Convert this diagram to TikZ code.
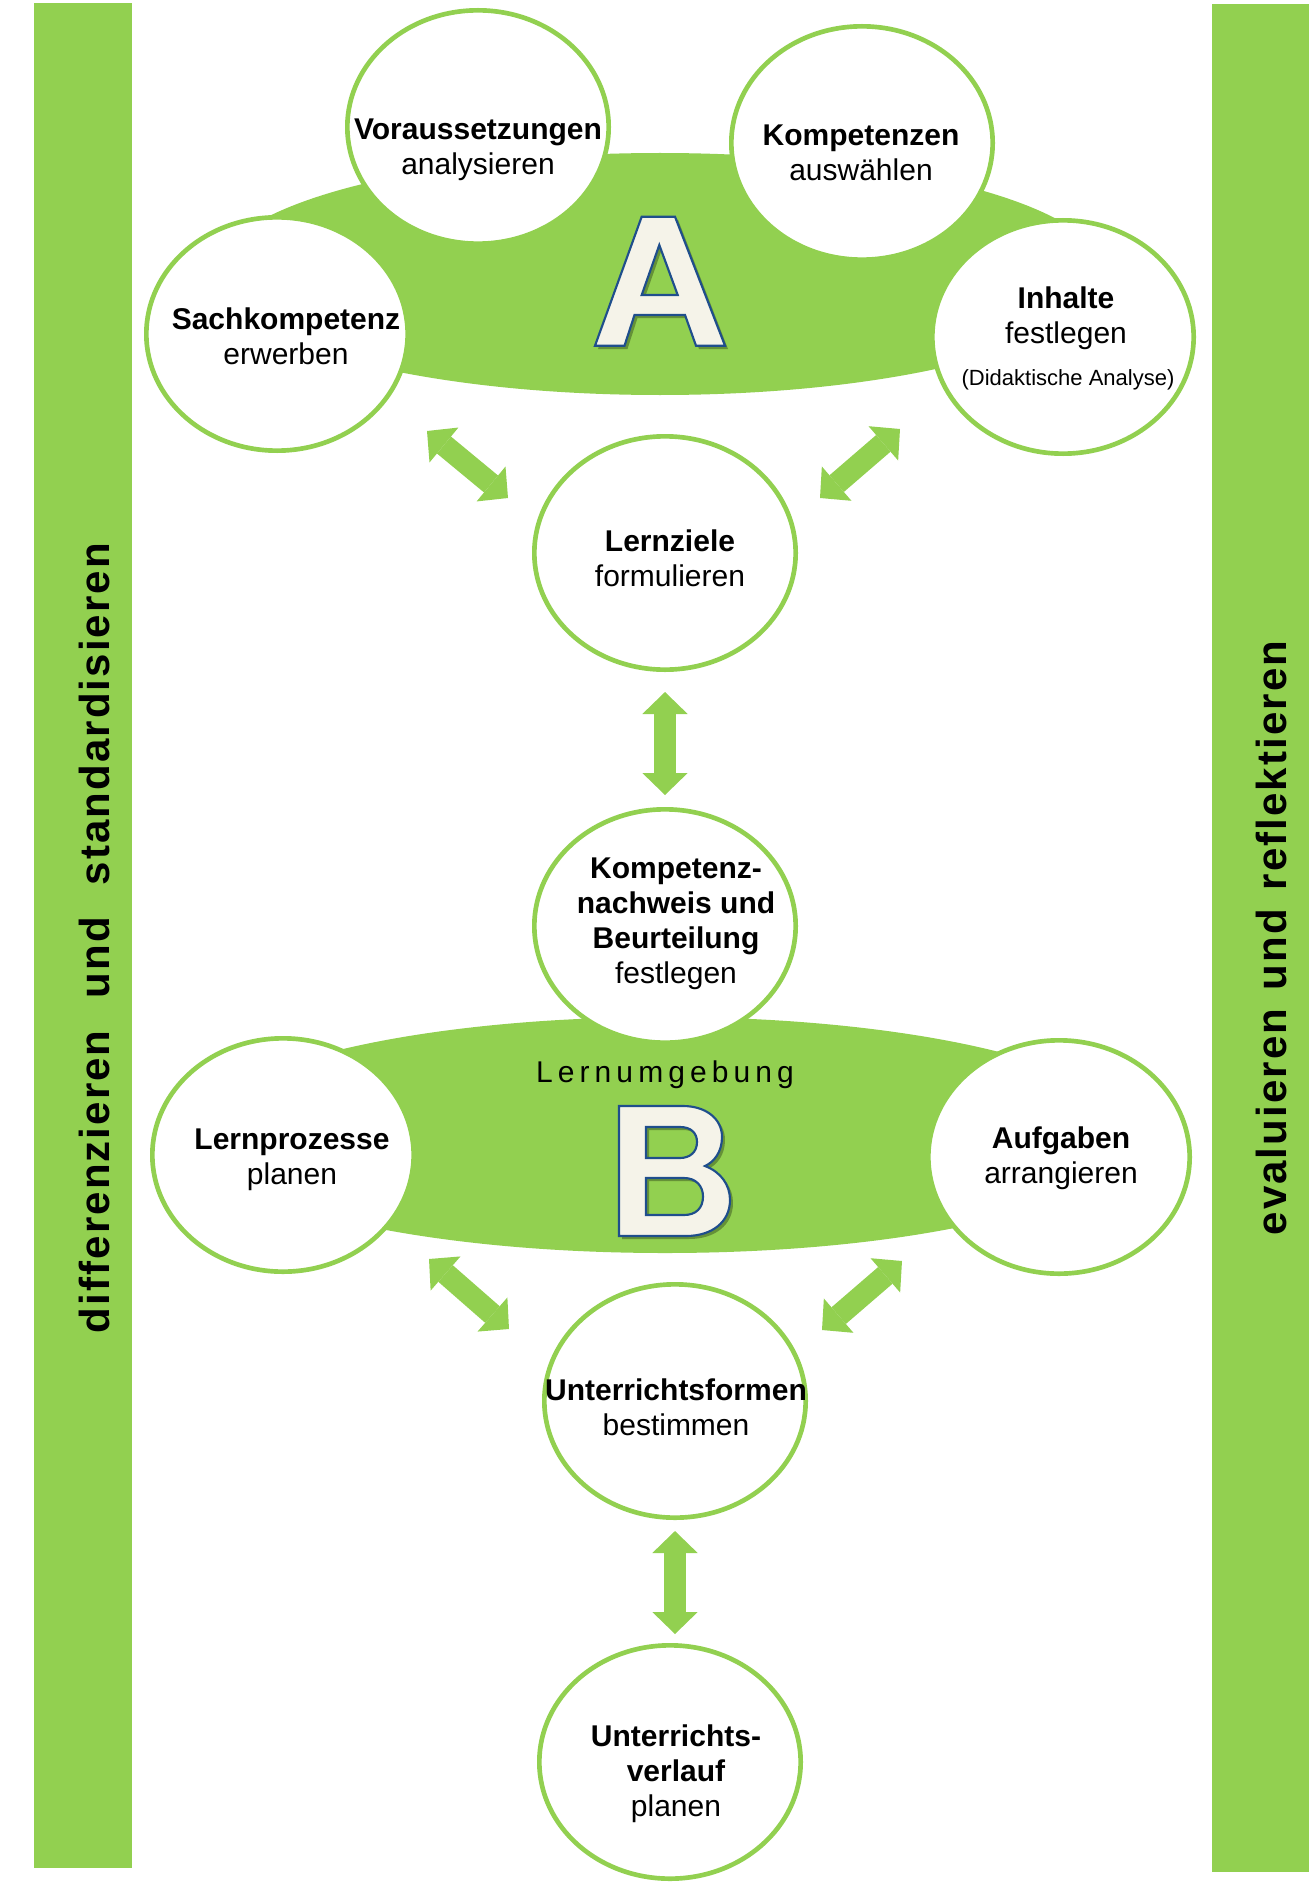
\documentclass[tikz,border=0pt]{standalone}
\usepackage{fontspec}
\setmainfont{Liberation Sans}
\newfontfamily\sidefont{Liberation Sans}[LetterSpace=5]
\newfontfamily\lufont{Liberation Sans}[LetterSpace=17]
\usetikzlibrary{shapes.geometric,arrows.meta}
\definecolor{lgreen}{HTML}{92D050}
\definecolor{navy}{HTML}{1F4E8C}
\definecolor{cream}{HTML}{F5F3E9}
\begin{document}
\begin{tikzpicture}[x=0.75pt,y=-0.75pt,
  bar/.style={fill=lgreen, draw=none},
  blob/.style={ellipse, fill=lgreen, draw=none, inner sep=0pt},
  bubble/.style={ellipse, draw=lgreen, line width=3.5pt, fill=white, inner sep=0pt, minimum width=196pt, minimum height=175pt},
  ttl/.style={font=\fontsize{22.5}{26.25}\selectfont, align=center, inner sep=0pt},
  smalltxt/.style={font=\fontsize{16.5}{19}\selectfont, inner sep=0pt},
  dbl/.style={draw=lgreen, line width=16.5pt, {Triangle[length=16.5pt,width=34pt,line width=0pt]}-{Triangle[length=16.5pt,width=34pt,line width=0pt]}},
  side/.style={font=\sidefont\bfseries\fontsize{31.5}{36}\selectfont, rotate=90, anchor=base, inner sep=0pt},
  letterfill/.style={fill=cream, draw=navy, line width=1.6pt, even odd rule, line join=miter},
  lettershadow/.style={fill=black, opacity=0.3, even odd rule}
]
\useasboundingbox (0,0) rectangle (1316,1887);
\fill[white] (0,0) rectangle (1316,1887);

% side bars
\path[bar] (34,3) rectangle (132,1868);
\path[bar] (1212,4) rectangle (1309,1872);
\node[side] (lefttxt) at (109,938) {differenzieren\hspace{24pt}und\hspace{24pt}standardisieren};
\node[side] (righttxt) at (1286,938) {evaluieren\hspace{14pt}und\hspace{14pt}reflektieren};

% green blobs
\node[blob, minimum width=667.5pt, minimum height=181.5pt] (blobA) at (660,274) {};
\node[blob, minimum width=705pt, minimum height=177pt] (blobB) at (665,1135) {};

% bubbles
\node[bubble] (vor) at (478,127) {};
\node[bubble] (kom) at (862,143) {};
\node[bubble] (sach) at (277,334) {};
\node[bubble] (inh) at (1063,337) {};
\node[bubble] (lz) at (665,553) {};
\node[bubble] (kn) at (665,926) {};
\node[bubble] (lp) at (283,1155) {};
\node[bubble] (auf) at (1059,1157) {};
\node[bubble] (uf) at (675,1401) {};
\node[bubble] (uv) at (670,1762) {};

% letter A
\path[lettershadow] (598,349) -- (644.7,219.7) -- (678,219.7) -- (728,349) -- (699,349) -- (688,318) -- (637.5,318) -- (627.5,349) -- cycle
  (662.3,248) -- (680.7,298) -- (644.7,298) -- cycle;
\path[letterfill] (595,345.7) -- (641.7,216.7) -- (675,216.7) -- (725,345.7) -- (696,345.7) -- (685,315) -- (634.5,315) -- (624.5,345.7) -- cycle
  (659.3,245) -- (677.7,295) -- (641.7,295) -- cycle;

% letter B
\path[lettershadow] (622,1109) -- (686,1109) .. controls (708,1109) and (725,1121) .. (725,1140) .. controls (725,1155) and (717,1165) .. (708,1169) .. controls (724,1175) and (733,1188) .. (733,1203) .. controls (733,1225) and (715,1239) .. (689,1239) -- (622,1239) -- cycle
  (649,1130) -- (683,1130) .. controls (694,1130) and (700,1136) .. (700,1145) .. controls (700,1155) and (693,1161) .. (683,1161) -- (649,1161) -- cycle
  (649,1181) -- (687,1181) .. controls (699,1181) and (706,1189) .. (706,1199.5) .. controls (706,1211) and (699,1218) .. (687,1218) -- (649,1218) -- cycle;
\path[letterfill] (619,1106) -- (683,1106) .. controls (705,1106) and (722,1118) .. (722,1137) .. controls (722,1152) and (714,1162) .. (705,1166) .. controls (721,1172) and (730,1185) .. (730,1200) .. controls (730,1222) and (712,1236) .. (686,1236) -- (619,1236) -- cycle
  (646,1127) -- (680,1127) .. controls (691,1127) and (697,1133) .. (697,1142) .. controls (697,1152) and (690,1158) .. (680,1158) -- (646,1158) -- cycle
  (646,1178) -- (684,1178) .. controls (696,1178) and (703,1186) .. (703,1196.5) .. controls (703,1208) and (696,1215) .. (684,1215) -- (646,1215) -- cycle;

\node[font=\lufont\fontsize{22.5}{26}\selectfont, anchor=base, inner sep=0pt] (lu) at (665,1082) {Lernumgebung};

% texts
\node[ttl] (tvor) at (478,150) {\textbf{Voraussetzungen}\\analysieren};
\node[ttl] (tkom) at (861,153) {\textbf{Kompetenzen}\\auswählen};
\node[ttl] (tsach) at (286,336) {\textbf{Sachkompetenz}\\erwerben};
\node[ttl] (tinh) at (1066,318) {\textbf{Inhalte}\\festlegen};
\node[smalltxt] (tdid) at (1068,380) {(Didaktische Analyse)};
\node[ttl] (tlz) at (670,558) {\textbf{Lernziele}\\formulieren};
\node[ttl] (tkn) at (676,924) {\textbf{Kompetenz-}\\\textbf{nachweis und}\\\textbf{Beurteilung}\\festlegen};
\node[ttl] (tlp) at (292,1160) {\textbf{Lernprozesse}\\planen};
\node[ttl] (tauf) at (1061,1158) {\textbf{Aufgaben}\\arrangieren};
\node[ttl] (tuf) at (676,1407) {\textbf{Unterrichtsformen}\\bestimmen};
\node[ttl] (tuv) at (676,1774) {\textbf{Unterrichts-}\\\textbf{verlauf}\\planen};

% arrows
\coordinate (a1s) at (427,431); \coordinate (a1e) at (508,498);
\coordinate (a2s) at (900,429); \coordinate (a2e) at (820,498);
\coordinate (a3s) at (665,692); \coordinate (a3e) at (665,795);
\coordinate (a4s) at (429,1259); \coordinate (a4e) at (509,1329);
\coordinate (a5s) at (902,1261); \coordinate (a5e) at (822,1330);
\coordinate (a6s) at (675,1531); \coordinate (a6e) at (675,1634);
\draw[dbl] (a1s) -- (a1e);
\draw[dbl] (a2s) -- (a2e);
\draw[dbl] (a3s) -- (a3e);
\draw[dbl] (a4s) -- (a4e);
\draw[dbl] (a5s) -- (a5e);
\draw[dbl] (a6s) -- (a6e);
\end{tikzpicture}
\end{document}
